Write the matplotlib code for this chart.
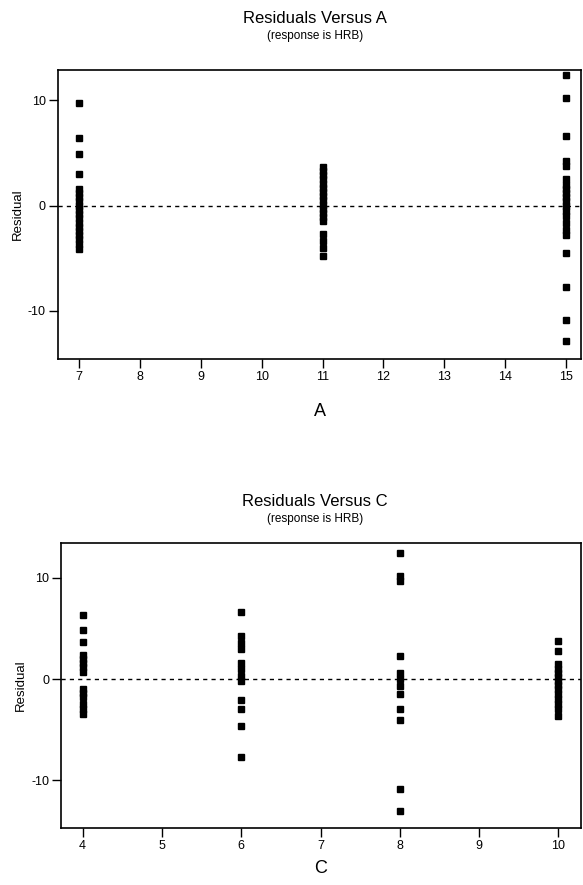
import matplotlib
matplotlib.use("Agg")
import matplotlib.pyplot as plt

plt.rcParams["font.family"] = ["Liberation Sans", "DejaVu Sans"]
plt.rcParams["axes.unicode_minus"] = False

# residuals grouped by factor level
A_LEVELS = [7, 11, 15]
RESID_A7 = [9.8, 6.4, 4.9, 3.0, 1.6, 1.2, 0.8, 0.4, 0.0, -0.4, -0.8, -1.2,
            -1.6, -2.0, -2.4, -2.8, -3.2, -3.6, -4.1]
RESID_A11 = [3.7, 3.3, 2.9, 2.5, 2.1, 1.7, 1.3, 0.9, 0.5, 0.1, -0.3, -0.7,
             -1.1, -1.5, -2.7, -3.4, -4.0, -4.8]
RESID_A15 = [12.4, 10.2, 6.6, 4.2, 3.8, 2.5, 2.0, 1.6, 1.2, 0.8, 0.4, 0.0,
             -0.5, -1.0, -1.6, -2.3, -2.8, -4.5, -7.7, -10.9, -12.9]

C_LEVELS = [4, 6, 8, 10]
RESID_C4 = [6.3, 4.8, 3.7, 2.4, 2.0, 1.6, 1.2, 0.7, -1.0, -1.4, -1.8, -2.5,
            -3.0, -3.5]
RESID_C6 = [6.6, 4.2, 3.6, 3.0, 1.6, 1.0, 0.3, -0.2, -2.1, -3.0, -4.6, -7.7]
RESID_C8 = [12.4, 10.2, 9.7, 2.3, 0.6, 0.0, -0.7, -1.5, -3.0, -4.0, -10.9,
            -13.0]
RESID_C10 = [3.8, 2.8, 1.5, 1.0, 0.6, 0.2, -0.2, -0.6, -1.0, -1.5, -2.0,
             -2.5, -3.0, -3.7]

A_TICKS = list(range(7, 16))
C_TICKS = list(range(4, 11))
Y_TICKS = [-10, 0, 10]


def draw_panel(ax, levels, groups, xlim, ylim, xticks, xlabel, xpad):
    for level, resid in zip(levels, groups):
        ax.plot([level] * len(resid), resid, linestyle="none", marker="s",
                markersize=5, color="black")

    ax.axhline(0, color="black", linestyle=(0, (3, 3)), linewidth=1)

    ax.set_xlim(*xlim)
    ax.set_ylim(*ylim)
    ax.set_xticks(xticks)
    ax.set_yticks(Y_TICKS)
    ax.tick_params(direction="out", length=6.5, width=1, labelsize=9,
                   colors="black", pad=2)
    for spine in ax.spines.values():
        spine.set_linewidth(1.2)

    ax.set_xlabel(xlabel, fontsize=13, labelpad=xpad)
    ax.set_ylabel("Residual", fontsize=9.5, labelpad=3)


fig = plt.figure(figsize=(5.83, 8.85), dpi=100)
fig.patch.set_facecolor("white")

ax1 = fig.add_axes([0.099, 0.594, 0.898, 0.327])
draw_panel(ax1, A_LEVELS, [RESID_A7, RESID_A11, RESID_A15],
           (6.65, 15.25), (-14.6, 12.9), A_TICKS, "A", 14)

ax2 = fig.add_axes([0.105, 0.064, 0.891, 0.323])
draw_panel(ax2, C_LEVELS, [RESID_C4, RESID_C6, RESID_C8, RESID_C10],
           (3.73, 10.28), (-14.75, 13.48), C_TICKS, "C", 6)

fig.text(0.54, 1 - 18.5 / 885, "Residuals Versus A", ha="center",
         va="center", fontsize=12)
fig.text(0.54, 1 - 36.5 / 885, "(response is HRB)", ha="center",
         va="center", fontsize=8.5)
fig.text(0.54, 1 - 502 / 885, "Residuals Versus C", ha="center",
         va="center", fontsize=12)
fig.text(0.54, 1 - 519 / 885, "(response is HRB)", ha="center",
         va="center", fontsize=8.5)

plt.savefig("out.png", dpi=100, facecolor=fig.get_facecolor())
plt.close()
